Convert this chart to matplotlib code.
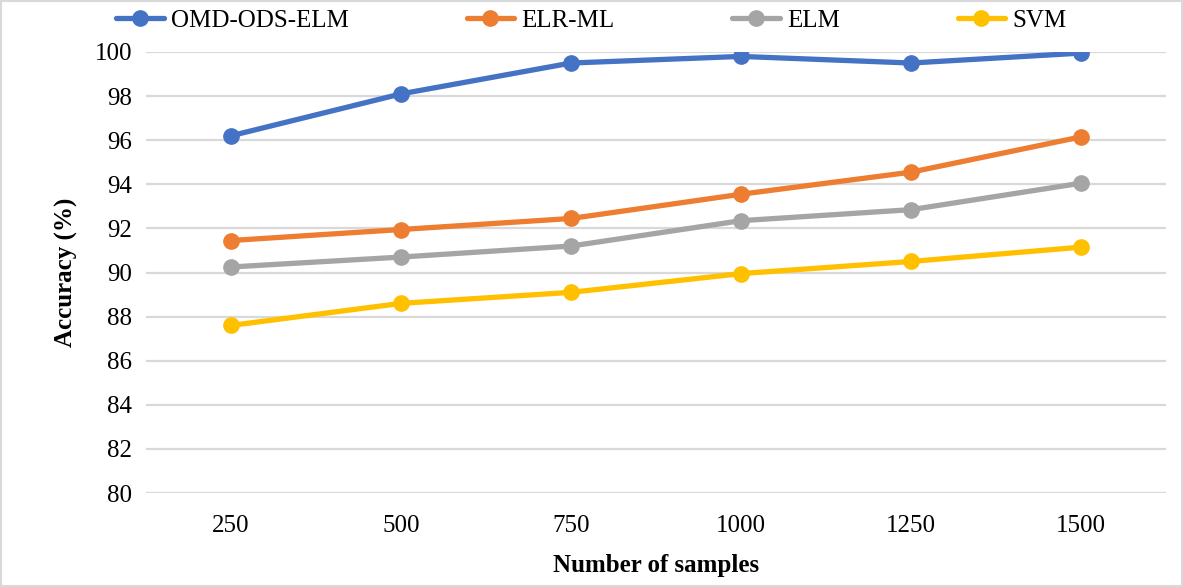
import matplotlib
matplotlib.use('Agg')
import matplotlib.pyplot as plt

plt.rcParams['font.family'] = ['Liberation Serif', 'DejaVu Serif']

samples = ['250', '500', '750', '1000', '1250', '1500']
omd_ods_elm = [96.2, 98.1, 99.5, 99.8, 99.5, 99.95]
elr_ml = [91.45, 91.95, 92.45, 93.55, 94.55, 96.15]
elm = [90.25, 90.7, 91.2, 92.35, 92.85, 94.05]
svm = [87.6, 88.6, 89.1, 89.95, 90.5, 91.15]

series = [
    ('OMD-ODS-ELM', omd_ods_elm, '#4472C4'),
    ('ELR-ML', elr_ml, '#ED7D31'),
    ('ELM', elm, '#A5A5A5'),
    ('SVM', svm, '#FFC000'),
]

fig = plt.figure(figsize=(11.83, 5.87), dpi=100)
ax = fig.add_axes([146 / 1183, 94 / 587, 1020 / 1183, 441 / 587])

x = range(len(samples))
for name, vals, col in series:
    ax.plot(x, vals, color=col, lw=3.8, marker='o', ms=11, label=name,
            solid_capstyle='round')

ax.set_xlim(-0.5, len(samples) - 0.5)
ax.set_ylim(80, 100)
ax.set_yticks(range(80, 101, 2))
ax.set_xticks(list(x))
ax.set_xticklabels(samples)
ax.tick_params(axis='both', length=0, labelsize=18, pad=10)
ax.tick_params(axis='x', pad=16)
ax.grid(axis='y', color='#d9d9d9', lw=1.6)
ax.set_axisbelow(True)
for s in ax.spines.values():
    s.set_visible(False)

ax.set_xlabel('Number of samples', fontsize=18, fontweight='bold', labelpad=12)
ax.set_ylabel('Accuracy (%)', fontsize=18, fontweight='bold', labelpad=12)

fig.legend(loc='upper center', bbox_to_anchor=(0.5, 1.022), ncol=4, frameon=False,
           fontsize=18, handlelength=1.9, handletextpad=0.3, columnspacing=4.7)

# light outer frame like the exported chart
fig.patches.append(plt.Rectangle((0.001, 0.001), 0.998, 0.998, transform=fig.transFigure,
                                 fill=False, edgecolor='#d9d9d9', lw=1.5))

fig.savefig('out.png', dpi=100)
